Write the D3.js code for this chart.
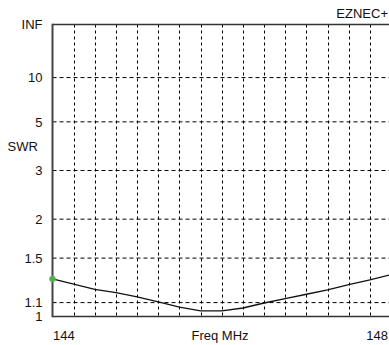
<!DOCTYPE html>
<html><head><meta charset="utf-8">
<script src="https://cdn.jsdelivr.net/npm/d3@7"></script>
<style>html,body{margin:0;padding:0;background:#fff;}svg{display:block;}</style>
</head><body>
<svg id="c" width="389" height="345"></svg>
<script>
const freqs = [144,144.25,144.5,144.75,145,145.25,145.5,145.75,146,146.25,146.5,146.75,147,147.25,147.5,147.75,148];
const swr = [1.295,1.25,1.205,1.178,1.145,1.106,1.067,1.04,1.04,1.06,1.097,1.13,1.165,1.20,1.246,1.286,1.335];
const yTicks = [1,1.1,1.5,2,3,5,10,Infinity];
const yTickLabels = ["1","1.1","1.5","2","3","5","10","INF"];
const xGrid = [144.25,144.5,144.75,145,145.25,145.5,145.75,146,146.25,146.5,146.75,147,147.25,147.5,147.75,148];
const xLabels = [{v:144,t:"144"},{v:148,t:"148"}];

(function(){
const svg = d3.select("#c");
const font = "'Liberation Sans', Arial, sans-serif";
const pL = 52.5, pT = 24.5, pB = 316.5, pR = 391.1;

const x = d3.scaleLinear().domain([144,148]).range([pL,pR]);
const gam = s => s === Infinity ? 1 : (s-1)/(s+1);
const yl = d3.scaleLinear().domain([0,1]).range([pB,pT]);
const y = s => yl(gam(s));

// horizontal grid
svg.append("g").selectAll("line").data(yTicks.filter(v=>v!==1 && v!==Infinity)).join("line")
  .attr("x1",pL).attr("x2",389).attr("y1",d=>y(d)).attr("y2",d=>y(d))
  .attr("stroke","#000").attr("stroke-width",1).attr("stroke-dasharray","4,3");
// vertical grid
svg.append("g").selectAll("line").data(xGrid).join("line")
  .attr("x1",d=>Math.round(x(d))+0.5).attr("x2",d=>Math.round(x(d))+0.5).attr("y1",pT).attr("y2",pB)
  .attr("stroke","#000").attr("stroke-width",1).attr("stroke-dasharray","3,3");

// frame
svg.append("line").attr("x1",pL).attr("x2",389).attr("y1",pT).attr("y2",pT).attr("stroke","#333").attr("stroke-width",1.5);
svg.append("line").attr("x1",pL).attr("x2",389).attr("y1",pB).attr("y2",pB).attr("stroke","#333").attr("stroke-width",1.5);
svg.append("line").attr("x1",pL).attr("x2",pL).attr("y1",pT-0.75).attr("y2",pB+0.75).attr("stroke","#444").attr("stroke-width",2);

// curve
const data = freqs.map((f,i)=>({f, s:swr[i]}));
svg.append("path").datum(data)
  .attr("d", d3.line().x(d=>x(d.f)).y(d=>y(d.s)))
  .attr("fill","none").attr("stroke","#111").attr("stroke-width",1.3);

// marker
svg.append("circle").attr("cx",x(freqs[0])).attr("cy",y(swr[0])).attr("r",3)
  .attr("fill","#22cc22").attr("stroke","#e060e0").attr("stroke-width",0.6);

// y labels
svg.append("g").selectAll("text").data(yTicks).join("text")
  .attr("x",42.5).attr("y",d=>y(d)).attr("dy","0.36em").attr("text-anchor","end")
  .attr("font-family",font).attr("font-size",13).attr("fill","#111")
  .text((d,i)=>yTickLabels[i]);

svg.append("text").attr("x",7.5).attr("y",146.5).attr("dy","0.36em")
  .attr("font-family",font).attr("font-size",13).attr("fill","#111").text("SWR");

// x labels
svg.append("text").attr("x",x(xLabels[0].v)+0.5).attr("y",335.5).attr("dy","0.36em").attr("text-anchor","start")
  .attr("font-family",font).attr("font-size",13).attr("fill","#111").text(xLabels[0].t);
svg.append("text").attr("x",388).attr("y",335.5).attr("dy","0.36em").attr("text-anchor","end")
  .attr("font-family",font).attr("font-size",13).attr("fill","#111").text(xLabels[1].t);
svg.append("text").attr("x",220).attr("y",335.5).attr("dy","0.36em").attr("text-anchor","middle")
  .attr("font-family",font).attr("font-size",13).attr("fill","#111").text("Freq MHz");

svg.append("text").attr("x",388).attr("y",13).attr("dy","0.36em").attr("text-anchor","end")
  .attr("font-family",font).attr("font-size",13).attr("fill","#111").text("EZNEC+");
})();
</script>
</body></html>
